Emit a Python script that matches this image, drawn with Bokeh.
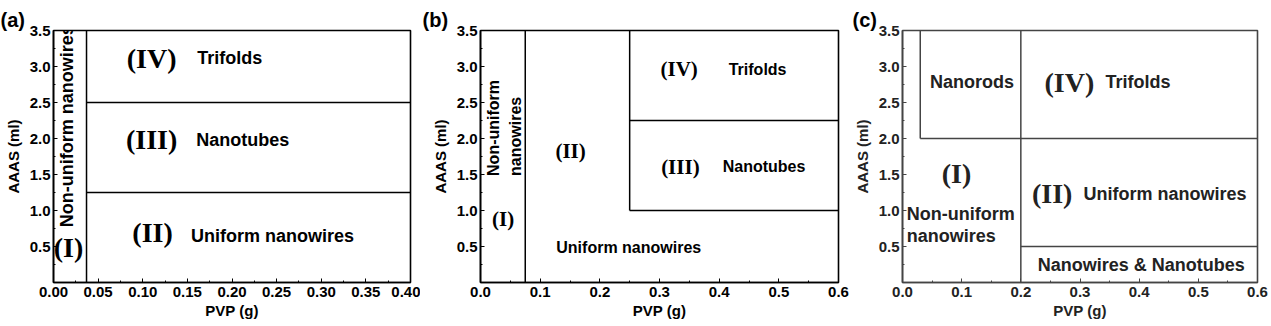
from bokeh.plotting import figure
from bokeh.layouts import row
from bokeh.models import Label, FixedTicker, PrintfTickFormatter, Range1d, Title
from bokeh.embed import file_html
from bokeh.resources import INLINE

SANS = "Liberation Sans"
SERIF = "Liberation Serif"

# ---------------- data ----------------
y_ticks = [0.5, 1.0, 1.5, 2.0, 2.5, 3.0, 3.5]
y_minor = [0.25, 0.75, 1.25, 1.75, 2.25, 2.75, 3.25]

# panel (a)
a_x_ticks = [0.00, 0.05, 0.10, 0.15, 0.20, 0.25, 0.30, 0.35, 0.40]
a_x_minor = [0.025, 0.075, 0.125, 0.175, 0.225, 0.275, 0.325, 0.375]
a_x_max = 0.40
a_seg_x0 = [0.037, 0.037, 0.037]
a_seg_y0 = [0.0, 1.25, 2.5]
a_seg_x1 = [0.037, 0.40, 0.40]
a_seg_y1 = [3.5, 1.25, 2.5]

# panel (b)
b_x_ticks = [0.0, 0.1, 0.2, 0.3, 0.4, 0.5, 0.6]
b_x_minor = [0.05, 0.15, 0.25, 0.35, 0.45, 0.55]
b_x_max = 0.6
b_seg_x0 = [0.075, 0.25, 0.25, 0.25]
b_seg_y0 = [0.0, 1.0, 1.0, 2.25]
b_seg_x1 = [0.075, 0.25, 0.60, 0.60]
b_seg_y1 = [3.5, 3.5, 1.0, 2.25]

# panel (c)
c_x_ticks = [0.0, 0.1, 0.2, 0.3, 0.4, 0.5, 0.6]
c_x_minor = [0.05, 0.15, 0.25, 0.35, 0.45, 0.55]
c_x_max = 0.6
c_seg_x0 = [0.03, 0.2, 0.03, 0.2]
c_seg_y0 = [2.0, 0.0, 2.0, 0.5]
c_seg_x1 = [0.03, 0.2, 0.60, 0.60]
c_seg_y1 = [3.5, 3.5, 2.0, 0.5]

panel_tags = ["(a)", "(b)", "(c)"]

# labels: text, x, y, font, size, align, angle
a_labels = [
    ("(IV)", 0.110, 3.11, SERIF, 28, "center", 0),
    ("Trifolds", 0.161, 3.12, SANS, 18, "left", 0),
    ("(III)", 0.110, 1.98, SERIF, 28, "center", 0),
    ("Nanotubes", 0.160, 1.98, SANS, 18, "left", 0),
    ("(II)", 0.111, 0.69, SERIF, 28, "center", 0),
    ("Uniform nanowires", 0.154, 0.65, SANS, 18, "left", 0),
    ("(I)", 0.0168, 0.48, SERIF, 28, "center", 0),
    ("Non-uniform nanowires", 0.0146, 2.17, SANS, 18, "center", 90),
]
b_labels = [
    ("Non-uniform", 0.0213, 1.48, SANS, 16, "left", 90),
    ("nanowires", 0.0586, 1.48, SANS, 16, "left", 90),
    ("(I)", 0.038, 0.88, SERIF, 21, "center", 0),
    ("(II)", 0.151, 1.82, SERIF, 21, "center", 0),
    ("(IV)", 0.333, 2.96, SERIF, 21, "center", 0),
    ("Trifolds", 0.416, 2.96, SANS, 16, "left", 0),
    ("(III)", 0.335, 1.61, SERIF, 21, "center", 0),
    ("Nanotubes", 0.406, 1.61, SANS, 16, "left", 0),
    ("Uniform nanowires", 0.127, 0.49, SANS, 16, "left", 0),
]
c_labels = [
    ("Nanorods", 0.0465, 2.79, SANS, 18, "left", 0),
    ("(IV)", 0.282, 2.78, SERIF, 28, "center", 0),
    ("Trifolds", 0.343, 2.79, SANS, 18, "left", 0),
    ("(I)", 0.0912, 1.52, SERIF, 28, "center", 0),
    ("Non-uniform", 0.0073, 0.95, SANS, 18, "left", 0),
    ("nanowires", 0.0073, 0.65, SANS, 18, "left", 0),
    ("(II)", 0.253, 1.24, SERIF, 28, "center", 0),
    ("Uniform nanowires", 0.306, 1.23, SANS, 18, "left", 0),
    ("Nanowires & Nanotubes", 0.2284, 0.25, SANS, 18, "left", 0),
]


def make_panel(tag, tag_offset, width, left, right, top, bottom, x_max, x_ticks, x_minor, x_fmt,
               segs, labels, line_color, text_color):
    p = figure(width=width, height=326, output_backend="svg", toolbar_location=None,
               x_range=Range1d(0, x_max), y_range=Range1d(0, 3.5),
               min_border_left=left, min_border_right=right,
               min_border_top=top, min_border_bottom=bottom,
               background_fill_color="white", border_fill_color="white")
    p.title = None
    p.add_layout(Title(text=tag, align="left", offset=tag_offset, standoff=0,
                       text_font=SANS, text_font_style="bold", text_font_size="20px",
                       text_color="black"), "above")
    p.xgrid.visible = False
    p.ygrid.visible = False
    p.outline_line_color = line_color
    p.outline_line_width = 1.6
    p.outline_line_alpha = 1.0

    p.xaxis.ticker = FixedTicker(ticks=x_ticks, minor_ticks=x_minor)
    p.yaxis.ticker = FixedTicker(ticks=y_ticks, minor_ticks=y_minor)
    p.xaxis.formatter = PrintfTickFormatter(format=x_fmt)
    p.yaxis.formatter = PrintfTickFormatter(format="%.1f")
    p.xaxis.axis_label = "PVP (g)"
    p.yaxis.axis_label = "AAAS (ml)"
    for ax in (p.xaxis, p.yaxis):
        ax.axis_line_color = line_color
        ax.axis_line_width = 1.6
        ax.major_tick_in = 4
        ax.major_tick_out = 0
        ax.minor_tick_in = 2
        ax.minor_tick_out = 0
        ax.major_tick_line_color = line_color
        ax.minor_tick_line_color = line_color
        ax.major_label_text_font = SANS
        ax.major_label_text_font_style = "bold"
        ax.major_label_text_font_size = "15px"
        ax.major_label_text_color = text_color
        ax.axis_label_text_font = SANS
        ax.axis_label_text_font_style = "bold"
        ax.axis_label_text_font_size = "15px"
        ax.axis_label_text_color = text_color
    p.xaxis.major_label_standoff = 4
    p.yaxis.major_label_standoff = 3
    p.xaxis.axis_label_standoff = 2
    p.yaxis.axis_label_standoff = 5

    x0, y0, x1, y1 = segs
    p.segment(x0=x0, y0=y0, x1=x1, y1=y1, line_color=line_color, line_width=1.5)

    for (t, x, y, font, size, align, ang) in labels:
        p.add_layout(Label(x=x, y=y, text=t, text_font=font, text_font_style="bold",
                           text_font_size=f"{size}px", text_align=align,
                           text_baseline="middle", angle=ang, angle_units="deg",
                           text_color=text_color))
    return p


pa = make_panel(panel_tags[0], -53, 420, 53, 10, 30, 43, a_x_max, a_x_ticks, a_x_minor, "%.2f",
                (a_seg_x0, a_seg_y0, a_seg_x1, a_seg_y1), a_labels, "black", "black")
pb = make_panel(panel_tags[1], -58, 430, 60, 12, 29, 44, b_x_max, b_x_ticks, b_x_minor, "%.1f",
                (b_seg_x0, b_seg_y0, b_seg_x1, b_seg_y1), b_labels, "black", "black")
pc = make_panel(panel_tags[2], -50, 421, 50, 14, 29, 43, c_x_max, c_x_ticks, c_x_minor, "%.1f",
                (c_seg_x0, c_seg_y0, c_seg_x1, c_seg_y1), c_labels, "#444444", "#222222")

layout = row(pa, pb, pc)
open("out.html", "w").write(file_html(layout, INLINE))
